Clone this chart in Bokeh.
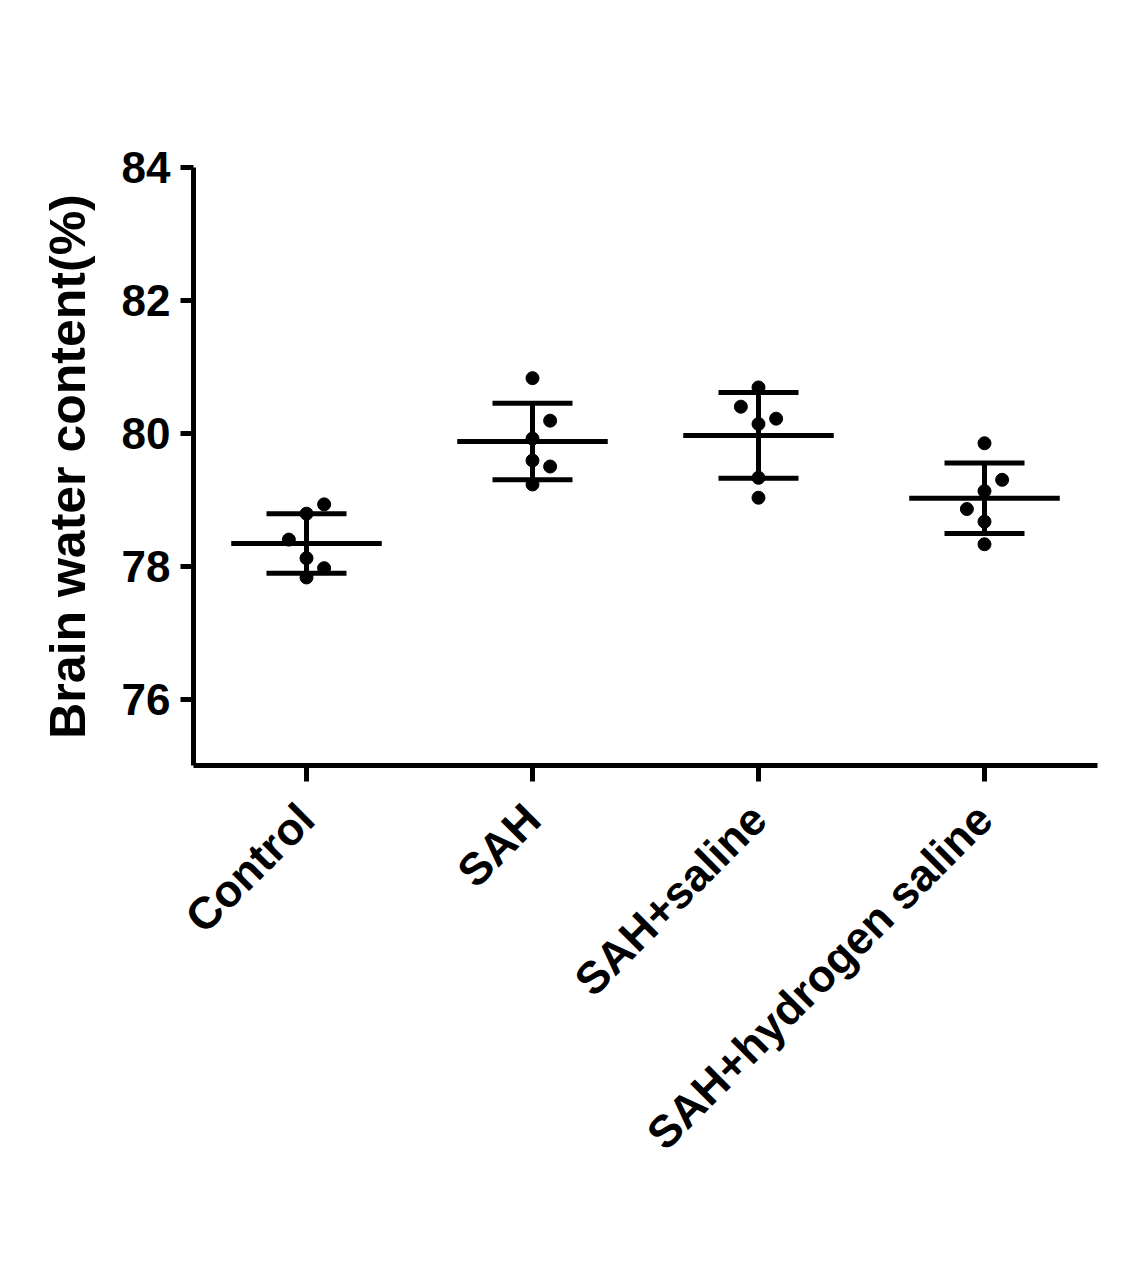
import math
import numpy as np
from bokeh.plotting import figure
from bokeh.models import Range1d, FixedTicker, ColumnDataSource
from bokeh.embed import file_html
from bokeh.resources import INLINE

# ---------------- data ----------------
groups = ["Control", "SAH", "SAH+saline", "SAH+hydrogen saline"]
control = [78.93, 78.79, 78.40, 78.12, 77.97, 77.83]
sah = [80.83, 80.19, 79.92, 79.59, 79.50, 79.23]
sah_saline = [80.69, 80.40, 80.22, 80.14, 79.33, 79.03]
sah_hydrogen = [79.85, 79.30, 79.13, 78.86, 78.67, 78.33]
# horizontal jitter slot of each point (-1 left, 0 centre, 1 right)
jitter_control = [1, 0, -1, 0, 1, 0]
jitter_sah = [0, 1, 0, 0, 1, 0]
jitter_saline = [0, -1, 1, 0, 0, 0]
jitter_hydrogen = [0, 1, 0, -1, 0, 0]
y_ticks = [76, 78, 80, 82, 84]

series = [control, sah, sah_saline, sah_hydrogen]
jitters = [jitter_control, jitter_sah, jitter_saline, jitter_hydrogen]

JIT = 0.078
MEAN_HALF = 0.333
CAP_HALF = 0.177
FONT = "Liberation Sans"

px, py = [], []
for i, (vals, jit) in enumerate(zip(series, jitters)):
    for v, j in zip(vals, jit):
        px.append(i + j * JIT)
        py.append(v)

idx = list(range(len(groups)))
means = [float(np.mean(v)) for v in series]
sds = [float(np.std(v, ddof=1)) for v in series]
lo = [m - s for m, s in zip(means, sds)]
hi = [m + s for m, s in zip(means, sds)]

stats = ColumnDataSource(dict(
    x=idx,
    mx0=[i - MEAN_HALF for i in idx], mx1=[i + MEAN_HALF for i in idx],
    cx0=[i - CAP_HALF for i in idx], cx1=[i + CAP_HALF for i in idx],
    mean=means, lo=lo, hi=hi,
))
pts = ColumnDataSource(dict(x=px, y=py))

p = figure(width=1124, height=1265,
           x_range=Range1d(-0.5, 3.5), y_range=Range1d(75, 84),
           output_backend="svg", toolbar_location=None,
           min_border_left=193, min_border_top=167,
           min_border_bottom=500, min_border_right=27)
p.outline_line_color = None
p.xgrid.visible = False
p.ygrid.visible = False
p.background_fill_color = "white"
p.border_fill_color = "white"

LW = 5
p.segment(x0="mx0", x1="mx1", y0="mean", y1="mean", source=stats,
          line_width=LW, line_color="black", line_cap="butt")
p.segment(x0="cx0", x1="cx1", y0="hi", y1="hi", source=stats,
          line_width=LW, line_color="black", line_cap="butt")
p.segment(x0="cx0", x1="cx1", y0="lo", y1="lo", source=stats,
          line_width=LW, line_color="black", line_cap="butt")
p.segment(x0="x", x1="x", y0="lo", y1="hi", source=stats,
          line_width=LW, line_color="black", line_cap="butt")
p.scatter(x="x", y="y", source=pts, size=13, fill_color="black",
          line_color="black")

# y axis
ya = p.yaxis[0]
ya.ticker = FixedTicker(ticks=y_ticks)
ya.axis_line_width = LW
ya.axis_line_color = "black"
ya.major_tick_line_width = LW
ya.major_tick_in = 0
ya.major_tick_out = 13
ya.minor_tick_line_color = None
ya.major_label_text_font = FONT
ya.major_label_text_font_style = "bold"
ya.major_label_text_font_size = "44px"
ya.major_label_text_color = "black"
ya.major_label_standoff = 10
ya.axis_label = "Brain water content(%)"
ya.axis_label_text_font = FONT
ya.axis_label_text_font_style = "bold"
ya.axis_label_text_font_size = "50px"
ya.axis_label_text_color = "black"
ya.axis_label_standoff = 23

# x axis
xa = p.xaxis[0]
xa.ticker = FixedTicker(ticks=idx)
xa.major_label_overrides = {i: g for i, g in zip(idx, groups)}
xa.axis_line_width = LW
xa.axis_line_color = "black"
xa.major_tick_line_width = LW
xa.major_tick_in = 0
xa.major_tick_out = 16
xa.minor_tick_line_color = None
xa.major_label_orientation = math.pi / 4
xa.major_label_text_font = FONT
xa.major_label_text_font_style = "bold"
xa.major_label_text_font_size = "45px"
xa.major_label_text_color = "black"
xa.major_label_standoff = 30

open("out.html", "w").write(file_html(p, INLINE))
